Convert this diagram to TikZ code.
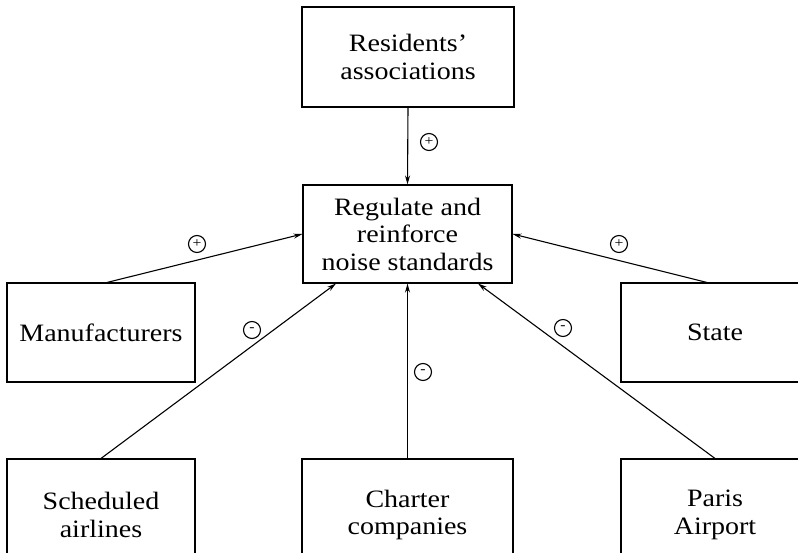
\documentclass[tikz,border=0pt]{standalone}
\usepackage{fontspec}
\setmainfont[FakeStretch=1.12]{Liberation Serif}
\usetikzlibrary{arrows.meta}

\begin{document}
\begin{tikzpicture}[x=1pt,y=-1pt,
  box/.style={draw, line width=1.1pt, align=center, inner sep=0pt,
    font=\fontsize{25}{27.5}\selectfont},
  link/.style={line width=1.1pt, -{Stealth[length=9pt,width=5pt]}},
  sign/.style={circle, draw, line width=1.1pt, inner sep=0pt,
    minimum size=17pt, font=\fontsize{14}{14}\selectfont}]

\useasboundingbox (0,0) rectangle (798,553);
\clip (0,0) rectangle (798,553);

% actors and the central issue
\node[box, minimum width=212pt, minimum height=100pt] (res) at (408,57) {Residents’\\associations};
\node[box, minimum width=209pt, minimum height=98pt] (ctr) at (407.5,234) {Regulate and\\reinforce\\noise standards};
\node[box, minimum width=188pt, minimum height=99pt] (man) at (101,332.5) {Manufacturers};
\node[box, minimum width=188pt, minimum height=99pt] (state) at (715,332.5) {State};
\node[box, minimum width=188pt, minimum height=112pt] (sched) at (101,515) {Scheduled\\airlines};
\node[box, minimum width=211pt, minimum height=112pt] (charter) at (407.5,515) {Charter\\companies};
\node[box, minimum width=188pt, minimum height=112pt] (paris) at (715,515) {Paris\\Airport};

% influences on the issue
\draw[link] (res.south) -- (ctr.north);
\draw[link] ([xshift=6pt]man.north) -- (ctr.west);
\draw[link] ([xshift=-8pt]state.north) -- (ctr.east);
\draw[link] (sched.north) -- ([xshift=-71.5pt]ctr.south);
\draw[link] (charter.north) -- (ctr.south);
\draw[link] (paris.north) -- ([xshift=70.5pt]ctr.south);

% signs of the influences
\node[sign] (s1) at (429,142) {+};
\node[sign] (s2) at (197,244) {+};
\node[sign] (s3) at (619,244) {+};
\node[sign] (s4) at (252,330) {-};
\node[sign] (s5) at (423,372) {-};
\node[sign] (s6) at (563,328) {-};
\end{tikzpicture}
\end{document}
